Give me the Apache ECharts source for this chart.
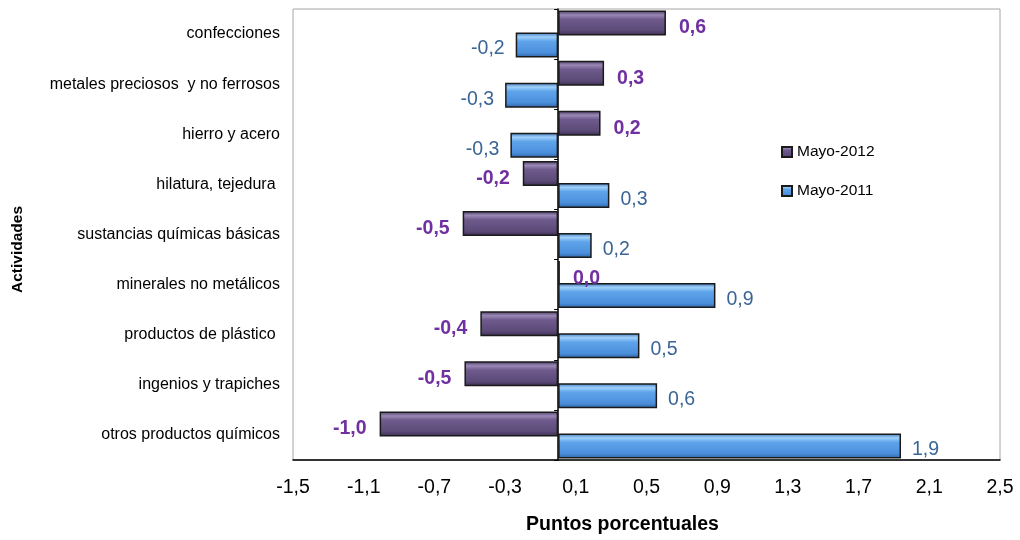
<!DOCTYPE html>
<html>
<head>
<meta charset="utf-8">
<script src="https://cdn.jsdelivr.net/npm/echarts@6/dist/echarts.min.js"></script>
<style>html,body{margin:0;padding:0;background:#fff}#c{width:1020px;height:540px}</style>
</head>
<body>
<div id="c"></div>
<script>
var categories = ['confecciones','metales preciosos  y no ferrosos','hierro y acero','hilatura, tejedura ','sustancias químicas básicas','minerales no metálicos','productos de plástico ','ingenios y trapiches','otros productos químicos'];
var mayo2012 = [0.61, 0.26, 0.24, -0.20, -0.54, 0.01, -0.44, -0.53, -1.01];
var mayo2011 = [-0.24, -0.30, -0.27, 0.29, 0.19, 0.89, 0.46, 0.56, 1.94];
var xTicks = {min: -1.5, max: 2.5, interval: 0.4};

var FONT = 'Liberation Sans, Arial, sans-serif';
function fmt(v){ return v.toFixed(1).replace('.', ','); }
function items(arr){
  return arr.map(function(v){
    return {value: v, label: {position: v < 0 ? 'left' : 'right'}};
  });
}
var purpleGrad = new echarts.graphic.LinearGradient(0,0,0,1,[
  {offset:0, color:'#4a3a63'},{offset:0.18, color:'#9a88b5'},{offset:0.35, color:'#6e5a8c'},{offset:0.8, color:'#5c4a78'},{offset:1, color:'#3b2d50'}]);
var blueGrad = new echarts.graphic.LinearGradient(0,0,0,1,[
  {offset:0, color:'#3f78bd'},{offset:0.18, color:'#9fd0fa'},{offset:0.35, color:'#5fa4ea'},{offset:0.8, color:'#4b8fdc'},{offset:1, color:'#2f62a3'}]);

var chart = echarts.init(document.getElementById('c'));
chart.setOption({
  animation: false,
  grid: {left: 293, right: 20, top: 9, bottom: 76, show: true, borderColor: '#a6a6a6', borderWidth: 1},
  legend: {
    orient: 'vertical', left: 776, top: 139, itemGap: 23, itemWidth: 10, itemHeight: 10,
    icon: 'rect',
    textStyle: {fontFamily: FONT, fontSize: 15.5, color: '#000'},
    data: ['Mayo-2012', 'Mayo-2011']
  },
  xAxis: {
    type: 'value', min: xTicks.min, max: xTicks.max, interval: xTicks.interval,
    position: 'bottom',
    axisLine: {show: true, onZero: false, lineStyle: {color: '#000', width: 1.5}},
    axisTick: {show: false},
    splitLine: {show: false},
    axisLabel: {fontFamily: FONT, fontSize: 19.5, color: '#000', margin: 18, formatter: function(v){ return fmt(v); }},
    name: 'Puntos porcentuales', nameLocation: 'middle', nameGap: 55,
    nameTextStyle: {fontFamily: FONT, fontSize: 19.5, fontWeight: 'bold', color: '#000', padding: [0, 48, 0, 0]}
  },
  yAxis: [{
    type: 'category', data: categories, inverse: true,
    axisLine: {show: false, onZero: false},
    axisTick: {show: false},
    axisLabel: {fontFamily: FONT, fontSize: 16, color: '#000', margin: 13},
    name: 'Actividades', nameLocation: 'middle', nameGap: 267, nameRotate: 90,
    nameTextStyle: {fontFamily: FONT, fontSize: 15.5, fontWeight: 'bold', color: '#000', padding: [0, 0, 0, -30]}
  }, {
    type: 'category', data: categories, inverse: true, position: 'left',
    axisLine: {show: true, onZero: true, lineStyle: {color: '#000', width: 1.5}},
    axisTick: {show: true, length: 4, lineStyle: {color: '#000'}},
    axisLabel: {show: false}
  }],
  series: [{
    name: 'Mayo-2012', type: 'bar', yAxisIndex: 0, data: items(mayo2012),
    barWidth: 25, barGap: '-12%',
    itemStyle: {color: purpleGrad, borderColor: '#1a1a1a', borderWidth: 1.5},
    label: {show: true, distance: 13, offset: [0, 5], fontFamily: FONT, fontSize: 19.5, fontWeight: 'bold', color: '#7030a0',
      formatter: function(p){ return fmt(p.value); }}
  }, {
    name: 'Mayo-2011', type: 'bar', yAxisIndex: 0, data: items(mayo2011),
    barWidth: 25, barGap: '-12%',
    itemStyle: {color: blueGrad, borderColor: '#1a1a1a', borderWidth: 1.5},
    label: {show: true, distance: 11, offset: [0, 4], fontFamily: FONT, fontSize: 19.5, color: '#3a6596',
      formatter: function(p){ return fmt(p.value); }}
  }]
});
</script>
</body>
</html>
